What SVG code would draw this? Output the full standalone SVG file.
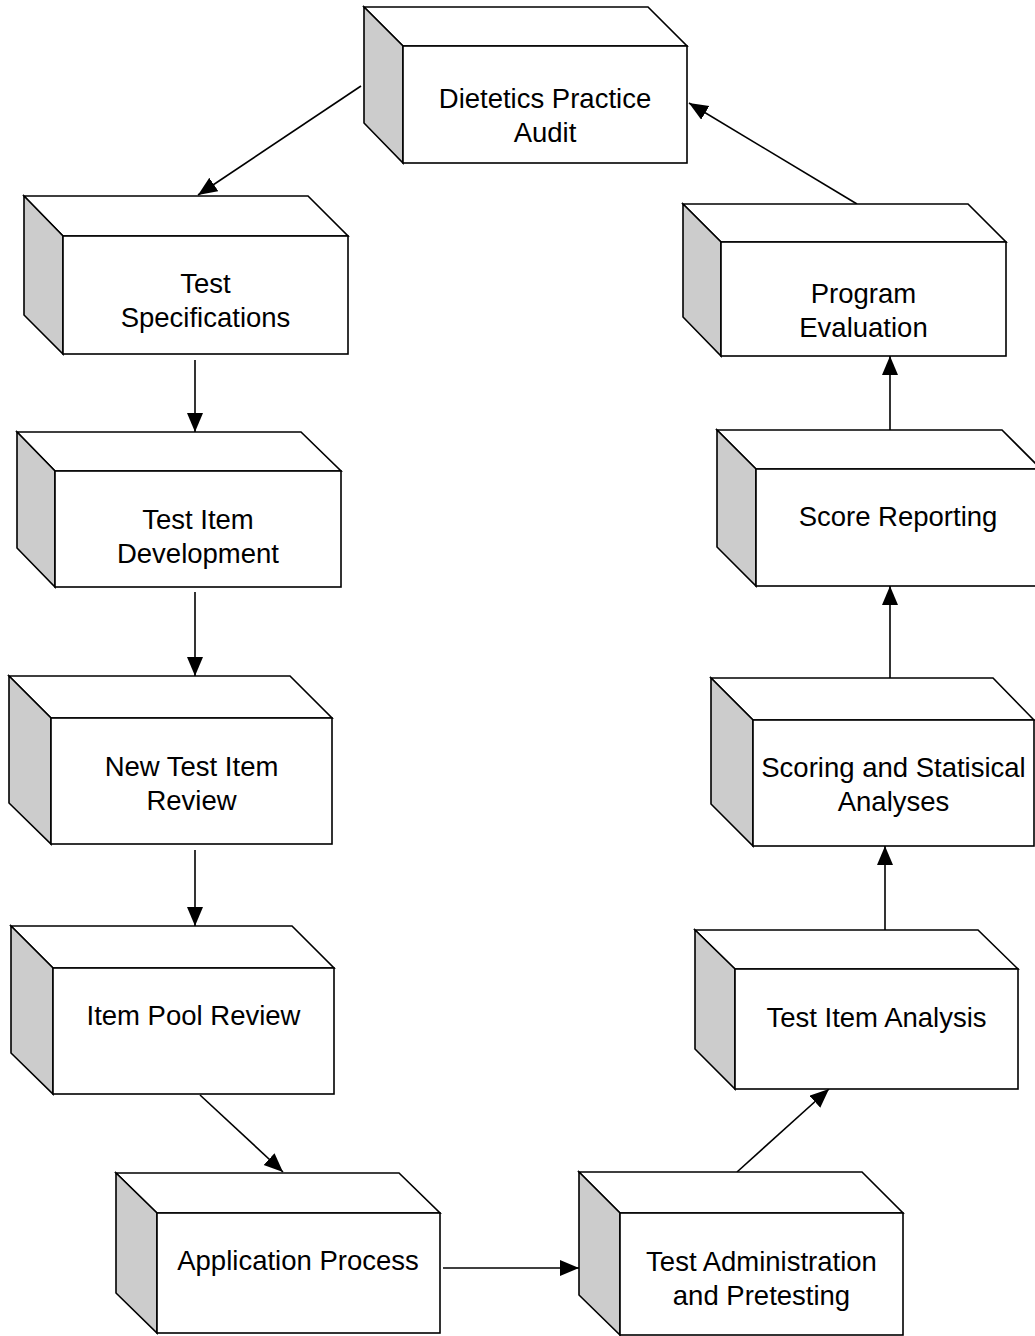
<svg xmlns="http://www.w3.org/2000/svg" width="1035" height="1336" viewBox="0 0 1035 1336">
<style>
.face{fill:#ffffff;stroke:#000;stroke-width:1.6;stroke-linejoin:miter}
.side{fill:#cccccc;stroke:#000;stroke-width:1.6}
.lbl{font-family:"Liberation Sans",Arial,sans-serif;font-size:27.5px;fill:#000;text-anchor:middle}
.conn{stroke:#000;stroke-width:1.6;fill:none;marker-end:url(#ah)}
</style>
<defs>
<marker id="ah" markerUnits="userSpaceOnUse" markerWidth="22" markerHeight="18" refX="19" refY="8" orient="auto">
<path d="M0,0 L19,8 L0,16 z" fill="#000"/>
</marker>
</defs>
<rect width="1035" height="1336" fill="#fff"/>

<g id="connectors">
<line class="conn" x1="361" y1="86" x2="198" y2="195"/>
<line class="conn" x1="857" y1="204" x2="689" y2="103"/>
<line class="conn" x1="195" y1="360" x2="195" y2="432"/>
<line class="conn" x1="195" y1="592" x2="195" y2="676"/>
<line class="conn" x1="195" y1="850" x2="195" y2="926"/>
<line class="conn" x1="200" y1="1095" x2="283" y2="1172"/>
<line class="conn" x1="443" y1="1268" x2="579" y2="1268"/>
<line class="conn" x1="737" y1="1172" x2="829" y2="1089"/>
<line class="conn" x1="885" y1="930" x2="885" y2="846"/>
<line class="conn" x1="890" y1="678" x2="890" y2="586"/>
<line class="conn" x1="890" y1="430" x2="890" y2="356"/>
</g>

<g id="n-dietetics">
<polygon class="face" points="364,7 648,7 687,46 403,46"/>
<polygon class="side" points="364,7 403,46 403,163 364,123"/>
<rect class="face" x="403" y="46" width="284" height="117"/>
<text class="lbl" x="545" y="108">Dietetics Practice</text>
<text class="lbl" x="545" y="142">Audit</text>
</g>

<g id="n-testspec">
<polygon class="face" points="24,196 308,196 348,236 63,236"/>
<polygon class="side" points="24,196 63,236 63,354 24,315"/>
<rect class="face" x="63" y="236" width="285" height="118"/>
<text class="lbl" x="205.5" y="293">Test</text>
<text class="lbl" x="205.5" y="327">Specifications</text>
</g>

<g id="n-itemdev">
<polygon class="face" points="17,432 301,432 341,471 55,471"/>
<polygon class="side" points="17,432 55,471 55,587 17,548"/>
<rect class="face" x="55" y="471" width="286" height="116"/>
<text class="lbl" x="198" y="529">Test Item</text>
<text class="lbl" x="198" y="563">Development</text>
</g>

<g id="n-newreview">
<polygon class="face" points="9,676 290,676 332,718 51,718"/>
<polygon class="side" points="9,676 51,718 51,844 9,803"/>
<rect class="face" x="51" y="718" width="281" height="126"/>
<text class="lbl" x="191.5" y="776">New Test Item</text>
<text class="lbl" x="191.5" y="810">Review</text>
</g>

<g id="n-itempool">
<polygon class="face" points="11,926 292,926 334,968 53,968"/>
<polygon class="side" points="11,926 53,968 53,1094 11,1053"/>
<rect class="face" x="53" y="968" width="281" height="126"/>
<text class="lbl" x="193.5" y="1025">Item Pool Review</text>
</g>

<g id="n-application">
<polygon class="face" points="116,1173 399,1173 440,1213 157,1213"/>
<polygon class="side" points="116,1173 157,1213 157,1333 116,1293"/>
<rect class="face" x="157" y="1213" width="283" height="120"/>
<text class="lbl" x="298" y="1270">Application Process</text>
</g>

<g id="n-testadmin">
<polygon class="face" points="579,1172 862,1172 903,1213 620,1213"/>
<polygon class="side" points="579,1172 620,1213 620,1335 579,1295"/>
<rect class="face" x="620" y="1213" width="283" height="122"/>
<text class="lbl" x="761.5" y="1271">Test Administration</text>
<text class="lbl" x="761.5" y="1305">and Pretesting</text>
</g>

<g id="n-itemanalysis">
<polygon class="face" points="695,930 978,930 1018,969 735,969"/>
<polygon class="side" points="695,930 735,969 735,1089 695,1049"/>
<rect class="face" x="735" y="969" width="283" height="120"/>
<text class="lbl" x="876.5" y="1027">Test Item Analysis</text>
</g>

<g id="n-scoring">
<polygon class="face" points="711,678 993,678 1034,720 753,720"/>
<polygon class="side" points="711,678 753,720 753,846 711,804"/>
<rect class="face" x="753" y="720" width="281" height="126"/>
<text class="lbl" x="893.5" y="777">Scoring and Statisical</text>
<text class="lbl" x="893.5" y="811">Analyses</text>
</g>

<g id="n-scorereport">
<polygon class="face" points="717,430 1002,430 1041,469 756,469"/>
<polygon class="side" points="717,430 756,469 756,586 717,547"/>
<rect class="face" x="756" y="469" width="285" height="117"/>
<text class="lbl" x="898" y="526">Score Reporting</text>
</g>

<g id="n-progeval">
<polygon class="face" points="683,204 968,204 1006,242 721,242"/>
<polygon class="side" points="683,204 721,242 721,356 683,317"/>
<rect class="face" x="721" y="242" width="285" height="114"/>
<text class="lbl" x="863.5" y="303">Program</text>
<text class="lbl" x="863.5" y="337">Evaluation</text>
</g>
</svg>
